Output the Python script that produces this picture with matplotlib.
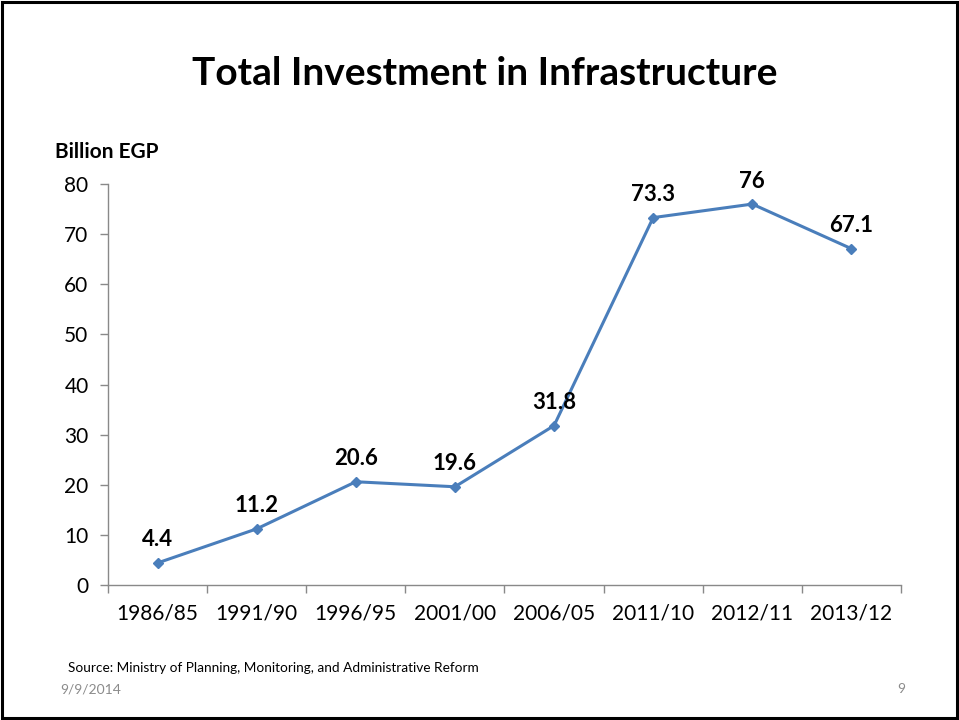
import matplotlib.pyplot as plt
from matplotlib.patches import Rectangle

plt.rcParams['font.family'] = ['Lato', 'DejaVu Sans']

periods = ["1986/85", "1991/90", "1996/95", "2001/00", "2006/05",
           "2011/10", "2012/11", "2013/12"]
investment = [4.4, 11.2, 20.6, 19.6, 31.8, 73.3, 76, 67.1]
value_labels = ["4.4", "11.2", "20.6", "19.6", "31.8", "73.3", "76", "67.1"]
y_ticks = [0, 10, 20, 30, 40, 50, 60, 70, 80]

LINE_BLUE = "#4A7EBB"
AXIS_GREY = "#898989"

fig = plt.figure(figsize=(9.59, 7.2), dpi=100)

# slide frame
fig.patches.append(Rectangle((0.002, 0.003), 0.996, 0.994, transform=fig.transFigure,
                             fill=False, edgecolor="black", linewidth=2.2))

ax = fig.add_axes([0.1126, 0.1875, 0.8269, 0.5569])
x = list(range(len(periods)))
ax.plot(x, investment, color=LINE_BLUE, linewidth=2.2, marker="D",
        markersize=5.5, markerfacecolor=LINE_BLUE, markeredgecolor=LINE_BLUE)

for xi, v, lab in zip(x, investment, value_labels):
    ax.annotate(lab, (xi, v), xytext=(0, 9), textcoords="offset points",
                ha="center", va="bottom", fontsize=16, fontweight="bold")

ax.set_xlim(-0.5, len(periods) - 0.5)
ax.set_ylim(0, 80)
ax.set_yticks(y_ticks)
ax.set_yticklabels([str(t) for t in y_ticks], fontsize=15)

# category ticks sit on the boundaries, labels in the middle
ax.set_xticks([i - 0.5 for i in range(len(periods) + 1)])
ax.set_xticklabels([])
ax.set_xticks(x, minor=True)
ax.set_xticklabels(periods, minor=True, fontsize=15)
ax.tick_params(axis="x", which="minor", length=0, pad=13)
ax.tick_params(axis="x", which="major", length=6, color=AXIS_GREY, width=1)
ax.tick_params(axis="y", length=6, color=AXIS_GREY, width=1, pad=8)

for side in ("top", "right"):
    ax.spines[side].set_visible(False)
for side in ("left", "bottom"):
    ax.spines[side].set_color(AXIS_GREY)
    ax.spines[side].set_linewidth(1)

fig.text(0.505, 0.898, "Total Investment in Infrastructure", ha="center", va="center",
         fontsize=28, fontweight="bold")
fig.text(0.057, 0.789, "Billion EGP", ha="left", va="center", fontsize=15, fontweight="bold")
fig.text(0.071, 0.072, "Source: Ministry of Planning, Monitoring, and Administrative Reform",
         ha="left", va="center", fontsize=9.8)
fig.text(0.063, 0.043, "9/9/2014", ha="left", va="center", fontsize=10, color="#8B8B8B")
fig.text(0.936, 0.043, "9", ha="left", va="center", fontsize=10, color="#8B8B8B")

fig.savefig("out.png", dpi=100)
